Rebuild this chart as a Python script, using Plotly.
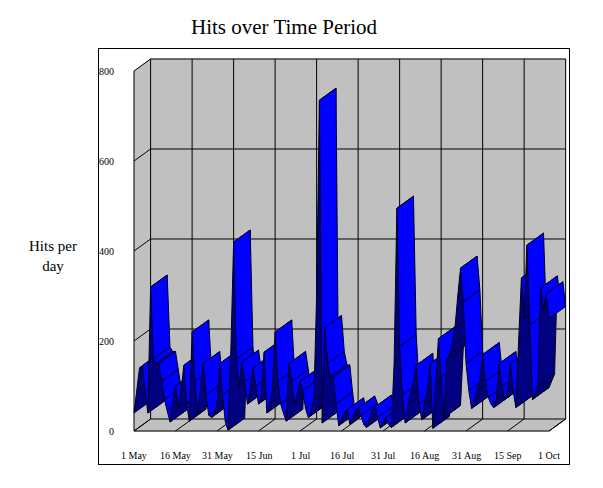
import plotly.graph_objects as go

TITLE = "Hits over Time Period"
Y_TITLE = "Hits per<br>day"
X_LABELS = ["1 May", "16 May", "31 May", "15 Jun", "1 Jul", "16 Jul", "31 Jul", "16 Aug", "31 Aug", "15 Sep", "1 Oct"]
Y_TICKS = [0, 200, 400, 600, 800]
HITS = [
    40, 90, 140, 145, 90, 40, 320, 160, 150, 150, 110, 70, 45, 20, 60,
    100, 50, 90, 146, 60, 22, 220, 110, 40, 90, 150, 80, 35, 30, 40,
    60, 150, 80, 20, 2, 180, 420, 160, 100, 153, 110, 60, 90, 140, 100,
    60, 80, 175, 40, 60, 90, 220, 110, 60, 40, 22, 150, 110, 60, 80,
    110, 90, 50, 30, 40, 70, 300, 735, 18, 230, 150, 120, 120, 60, 12,
    25, 40, 47, 15, 30, 45, 51, 35, 15, 8, 25, 45, 53, 30, 7, 20, 30,
    15, 8, 150, 495, 187, 80, 18, 60, 80, 110, 146, 60, 25, 60, 90,
    150, 6, 100, 205, 120, 30, 158, 170, 190, 230, 300, 362, 287, 150, 90,
    50, 70, 90, 110, 170, 110, 75, 60, 52, 70, 150, 100, 70, 90, 150,
    90, 52, 200, 340, 250, 413, 235, 70, 85, 100, 318, 270, 305, 250,
]

PX_X, PX_Y = 2.767, 0.45
DEPTH_X, DEPTH_Y = 6.0, 26.7
N = len(HITS) - 1
X_STEP = 15
Y_TOP = 800
GRAY, BLUE, NAVY = "#C0C0C0", "#0000FF", "#000080"
X_END = 150
PAGE = 8  # the browser's default body margin

fig = go.Figure()


def poly(xs, ys, fill, line="black", width=1):
    fig.add_trace(go.Scatter(x=xs, y=ys, mode="lines", fill="toself", fillcolor=fill,
                             line=dict(color=line, width=width), hoverinfo="skip", showlegend=False))


def seg(xs, ys):
    fig.add_trace(go.Scatter(x=xs, y=ys, mode="lines", line=dict(color="black", width=1),
                             hoverinfo="skip", showlegend=False))


poly([0, DEPTH_X, DEPTH_X, 0], [0, DEPTH_Y, Y_TOP + DEPTH_Y, Y_TOP], GRAY, GRAY)
poly([DEPTH_X, X_END + DEPTH_X, X_END + DEPTH_X, DEPTH_X],
     [DEPTH_Y, DEPTH_Y, Y_TOP + DEPTH_Y, Y_TOP + DEPTH_Y], GRAY, GRAY)
poly([0, X_END, X_END + DEPTH_X, DEPTH_X], [0, 0, DEPTH_Y, DEPTH_Y], GRAY, GRAY)

for v in Y_TICKS:
    seg([0, DEPTH_X, X_END + DEPTH_X], [v, v + DEPTH_Y, v + DEPTH_Y])
for k in range(len(X_LABELS)):
    t = k * X_STEP
    seg([t, t + DEPTH_X, t + DEPTH_X], [0, DEPTH_Y, Y_TOP + DEPTH_Y])
seg([0, 0], [0, Y_TOP])
seg([0, X_END], [0, 0])
seg([X_END, X_END + DEPTH_X], [0, DEPTH_Y])

for i in range(N):
    a, b = HITS[i], HITS[i + 1]
    colour = NAVY if b > a + DEPTH_Y / DEPTH_X else BLUE
    poly([i, i + 1, i + 1 + DEPTH_X, i + DEPTH_X, i],
         [a, b, b + DEPTH_Y, a + DEPTH_Y, a], colour, "#000020")

annots = [dict(x=k * X_STEP, y=-54, text=t, showarrow=False, xref="x", yref="y",
               font=dict(family="Liberation Serif", size=10, color="black"))
          for k, t in enumerate(X_LABELS)]
annots += [dict(x=-6.5, y=v, text=str(v), showarrow=False, xref="x", yref="y", xanchor="right",
                font=dict(family="Liberation Serif", size=10, color="black"))
           for v in Y_TICKS]

FRAME_L, FRAME_R, FRAME_T, FRAME_B = 99, 569, 49, 464
W, H = 603 - PAGE, 488 - PAGE
L, T = FRAME_L - PAGE, FRAME_T - PAGE
R = W - (FRAME_R - PAGE)
B = H - (FRAME_B - PAGE)
x0 = (FRAME_L - 134) / PX_X
x1 = (FRAME_R - 134) / PX_X
y0 = -(FRAME_B - 431) / PX_Y
y1 = (431 - FRAME_T) / PX_Y
fw, fh = FRAME_R - FRAME_L, FRAME_B - FRAME_T


def pap(px, py):
    return (px - FRAME_L) / fw, (FRAME_B - py) / fh


ax, ay = pap(53, 256)
annots.append(dict(xref="paper", yref="paper", x=ax, y=ay, xanchor="center", yanchor="middle",
                   text=Y_TITLE, showarrow=False, align="center",
                   font=dict(family="Liberation Serif", size=15, color="black")))
ax, ay = pap(284, 27)
annots.append(dict(xref="paper", yref="paper", x=ax, y=ay, xanchor="center", yanchor="middle",
                   text=TITLE, showarrow=False,
                   font=dict(family="Liberation Serif", size=21, color="black")))

fig.update_layout(
    width=W, height=H, margin=dict(l=L, r=R, t=T, b=B, pad=0),
    paper_bgcolor="white", plot_bgcolor="white", showlegend=False,
    xaxis=dict(range=[x0, x1], showgrid=False, zeroline=False, showticklabels=False, ticks="",
               showline=True, mirror=True, linecolor="black", linewidth=1),
    yaxis=dict(range=[y0, y1], showgrid=False, zeroline=False, showticklabels=False, ticks="",
               showline=True, mirror=True, linecolor="black", linewidth=1),
    annotations=annots,
)
fig.write_html("out.html", config=dict(displayModeBar=False))
